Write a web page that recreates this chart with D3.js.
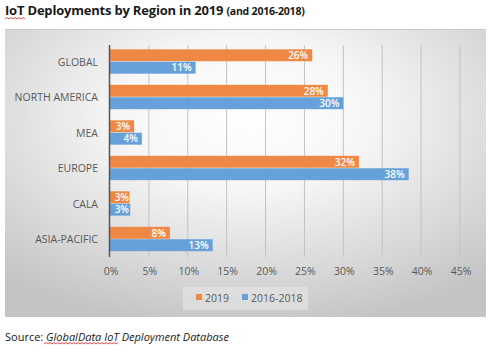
<!DOCTYPE html>
<html lang="en">
<head>
<meta charset="UTF-8">
<title>IoT Deployments by Region</title>
<script src="https://d3js.org/d3.v7.min.js"></script>
<style>
  body { margin: 0; background: #fff; }
  svg { display: block; font-family: "Open Sans", "Liberation Sans", sans-serif; }
  .cat { font-size: 10.5px; fill: #595959; text-anchor: end; }
  .tick-label { font-size: 10.5px; fill: #595959; text-anchor: middle; }
  .bar-label { font-size: 10px; fill: #fff; font-weight: 600; text-anchor: end; }
  .legend { font-size: 10.5px; fill: #595959; }
</style>
</head>
<body>
<svg width="494" height="364"></svg>
<script>
const regions = ["GLOBAL", "NORTH AMERICA", "MEA", "EUROPE", "CALA", "ASIA-PACIFIC"];
const seriesNames = ["2019", "2016-2018"];
const values2019 = [26, 28, 3.1, 32, 2.5, 7.7];
const values2016_2018 = [11, 30, 4.1, 38.4, 2.6, 13.2];
const xTicks = [0, 5, 10, 15, 20, 25, 30, 35, 40, 45];
const colors = ["#EF8844", "#66A1D9"];

const svg = d3.select("svg");
const defs = svg.append("defs");

const grad = defs.append("radialGradient")
    .attr("id", "bg")
    .attr("cx", "50%").attr("cy", "30%").attr("r", "75%");
grad.append("stop").attr("offset", "0%").attr("stop-color", "#ffffff");
grad.append("stop").attr("offset", "35%").attr("stop-color", "#f6f6f6");
grad.append("stop").attr("offset", "100%").attr("stop-color", "#c4c4c4");

// title
const title = svg.append("text").attr("x", 5).attr("y", 15)
    .style("font-weight", "bold").style("fill", "#1a1a1a");
title.append("tspan").attr("font-size", "13px").attr("letter-spacing", "-0.2px")
    .text("IoT Deployments by Region in 2019 ");
title.append("tspan").attr("font-size", "10.5px").attr("letter-spacing", "-0.2px")
    .text("(and 2016-2018)");

// squiggle helper (spell-check marks)
function squiggle(x0, x1, y) {
    let d = `M${x0},${y}`;
    for (let x = x0, up = true; x < x1; x += 2, up = !up) d += `L${x + 2},${y + (up ? -1.5 : 0)}`;
    svg.append("path").attr("d", d).attr("fill", "none").attr("stroke", "#e02020").attr("stroke-width", 0.8);
}
squiggle(5, 24, 19);

// chart background
svg.append("rect")
    .attr("x", 5).attr("y", 29).attr("width", 481).attr("height", 288)
    .attr("fill", "url(#bg)");
svg.append("line").attr("x1", 5).attr("x2", 486).attr("y1", 29.5).attr("y2", 29.5)
    .attr("stroke", "#c8c8c8");

const x = d3.scaleLinear().domain([0, 45]).range([110, 460]);
const y = d3.scaleBand().domain(regions).range([44, 257]).paddingInner(0.3).paddingOuter(0.15);
const ySub = d3.scaleBand().domain(seriesNames).range([0, y.bandwidth()]);

// gridlines
svg.append("g").selectAll("line")
    .data(xTicks.slice(1))
    .join("line")
    .attr("x1", d => x(d)).attr("x2", d => x(d))
    .attr("y1", 45).attr("y2", 257)
    .attr("stroke", "#c2c2c2").attr("stroke-width", 1);

// tick labels
svg.append("g").selectAll("text")
    .data(xTicks)
    .join("text")
    .attr("class", "tick-label")
    .attr("x", d => x(d) + 1)
    .attr("y", 275)
    .text(d => d + "%");

// category labels
svg.append("g").selectAll("text")
    .data(regions)
    .join("text")
    .attr("class", "cat")
    .attr("x", 98)
    .attr("y", d => y(d) + y.bandwidth() / 2 + 4)
    .text(d => d);

const rows = regions.map((r, i) => [
    { region: r, series: seriesNames[0], value: values2019[i], color: colors[0] },
    { region: r, series: seriesNames[1], value: values2016_2018[i], color: colors[1] }
]).flat();

const bars = svg.append("g");
bars.selectAll("rect")
    .data(rows)
    .join("rect")
    .attr("x", x(0))
    .attr("y", d => y(d.region) + ySub(d.series))
    .attr("width", d => x(d.value) - x(0))
    .attr("height", ySub.bandwidth() - 0.5)
    .attr("fill", d => d.color);

bars.selectAll("text")
    .data(rows)
    .join("text")
    .attr("class", "bar-label")
    .attr("x", d => Math.max(x(d.value) - 4, x(0) + 19))
    .attr("y", d => y(d.region) + ySub(d.series) + ySub.bandwidth() / 2 + 3.5)
    .text(d => Math.round(d.value) + "%");

// zero axis
svg.append("line").attr("x1", 109.5).attr("x2", 109.5).attr("y1", 45).attr("y2", 257)
    .attr("stroke", "#555").attr("stroke-width", 1.5);

// legend
const lg = svg.append("g");
lg.append("rect").attr("x", 183).attr("y", 287).attr("width", 125).attr("height", 23)
    .attr("fill", "#e6e6e6").attr("opacity", 0.6);
const legendX = [196, 242];
seriesNames.forEach((s, i) => {
    lg.append("rect").attr("x", legendX[i]).attr("y", 294).attr("width", 6).attr("height", 6)
        .attr("fill", colors[i]);
    lg.append("text").attr("class", "legend").attr("x", legendX[i] + 9).attr("y", 301.5).text(s);
});

// source
const src = svg.append("text").attr("x", 5).attr("y", 341)
    .style("font-size", "11px").style("fill", "#1a1a1a");
src.append("tspan").text("Source: ");
src.append("tspan").style("font-style", "italic").text("GlobalData IoT Deployment Database");
squiggle(44, 118, 344);
</script>
</body>
</html>
